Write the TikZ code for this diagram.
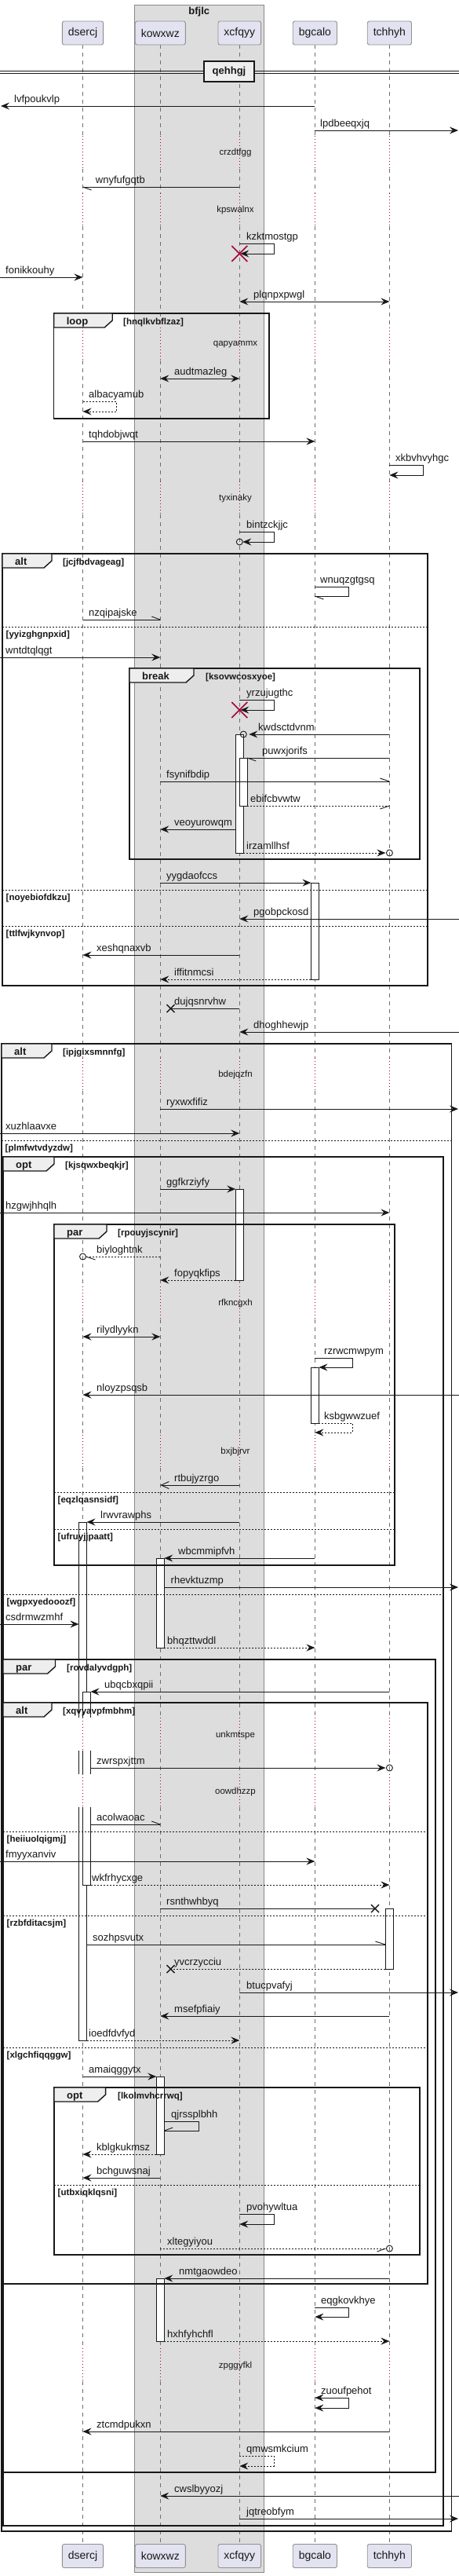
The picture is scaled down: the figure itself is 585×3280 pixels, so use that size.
\documentclass[tikz,border=0pt]{standalone}
\usepackage{fontspec}
\setmainfont{Liberation Sans}
\usetikzlibrary{arrows.meta}
\definecolor{ink}{HTML}{181818}
\definecolor{partfill}{HTML}{E2E2F0}
\definecolor{partdraw}{HTML}{909090}
\definecolor{grpfill}{HTML}{DDDDDD}
\definecolor{grpdraw}{HTML}{888888}
\definecolor{lifecol}{HTML}{6E6E6E}
\definecolor{delaycol}{HTML}{A80036}
\definecolor{tabfill}{HTML}{EEEEEE}
\tikzset{
  lbl/.style={font=\fontsize{13}{15}\selectfont, anchor=base west, inner sep=0pt, text=ink},
  dlbl/.style={font=\fontsize{11.5}{13}\selectfont, inner sep=0pt, text=ink},
  kw/.style={font=\bfseries\fontsize{13}{15}\selectfont, anchor=base west, inner sep=0pt, text=ink},
  cond/.style={font=\bfseries\fontsize{11.5}{13}\selectfont, anchor=base west, inner sep=0pt, text=ink},
  msgline/.style={draw=ink, line width=0.9pt},
  dsh/.style={dash pattern=on 2pt off 2pt},
  fa/.style={-{Stealth[length=11pt,width=9pt,inset=4pt]}},
  ba/.style={{Stealth[length=11pt,width=9pt,inset=4pt]}-{Stealth[length=11pt,width=9pt,inset=4pt]}},
  oa/.style={-{Straight Barb[length=10pt,width=9pt]}},
  frameline/.style={draw=ink, line width=1.4pt},
  sepline/.style={draw=ink, line width=0.8pt, dash pattern=on 2pt off 2pt},
  actbox/.style={draw=ink, fill=white, line width=0.9pt},
  partbox/.style={draw=partdraw, fill=partfill, rounded corners=2.5pt, line width=0.9pt, font=\fontsize{14}{16}\selectfont, inner xsep=7.5pt, inner ysep=0pt, minimum height=30pt, text=ink},
  lifeline/.style={draw=lifecol, line width=0.8pt, dash pattern=on 5pt off 5pt},
  delayline/.style={draw=delaycol, line width=0.9pt, dash pattern=on 1pt off 3pt},
  xred/.style={draw=delaycol, line width=1.6pt},
  xblk/.style={draw=ink, line width=1.4pt},
}
\def\xD{105.5}
\def\xK{204.3}
\def\xX{305.3}
\def\xB{401.4}
\def\xT{496.4}
\def\xL{1}
\def\xR{584}
% name, y, x1, x2, style, label, labelx
\newcommand\mymsg[7]{%
  \coordinate (#1s) at (#3,#2);
  \coordinate (#1e) at (#4,#2);
  \draw[msgline,#5] (#1s) -- (#1e);
  \node[lbl] (#1l) at (#7,#2-5) {#6};
}
% name, y1, y2, xstart, xend, xright, style, label, labelx
\newcommand\myself[9]{%
  \coordinate (#1s) at (#4,#2);
  \coordinate (#1a) at (#6,#2);
  \coordinate (#1b) at (#6,#3);
  \coordinate (#1e) at (#5,#3);
  \draw[msgline,#7] (#1s) -- (#1a) -- (#1b) -- (#1e);
  \node[lbl] (#1l) at (#9,#2-5) {#8};
}
\newcommand\mybarb[3]{\draw[msgline] (#1) -- ++(#2,#3);}
\newcommand\mylost[2]{\draw[xblk] (#1-5,#2-5) -- (#1+5,#2+5) (#1-5,#2+5) -- (#1+5,#2-5);}
\newcommand\mykill[2]{\draw[xred] (#1-10,#2-10) -- (#1+10,#2+10) (#1-10,#2+10) -- (#1+10,#2-10);}
\newcommand\myring[2]{\draw[msgline] (#1,#2) circle (4);}
% name, x1, y1, x2, y2, keyword, tabright, cond, condx
\newcommand\myframe[9]{%
  \draw[frameline] (#2,#3) rectangle (#4,#5);
  \filldraw[frameline, fill=tabfill] (#2,#3) -- (#7,#3) -- (#7,#3+9) -- (#7-10,#3+18) -- (#2,#3+18) -- cycle;
  \node[kw] (#1k) at (#2+16,#3+14) {#6};
  \node[cond] (#1c) at (#9,#3+14) {#8};
}
% name, x1, x2, y, label
\newcommand\mysep[5]{%
  \draw[sepline] (#2,#4) -- (#3,#4);
  \node[cond] (#1) at (#2+4.5,#4+13) {#5};
}
\newcommand\myact[4]{\filldraw[actbox] (#2,#3) rectangle (#2+10,#4);}
\begin{document}
\begin{tikzpicture}[x=1pt,y=-1pt]
\useasboundingbox (0,0) rectangle (585,3280);
\fill[white] (0,0) rectangle (585,3280);
% box group
\filldraw[fill=grpfill, draw=grpdraw, line width=0.8pt] (171,6) rectangle (336.6,3275);
\node[font=\bfseries\fontsize{13}{15}\selectfont, inner sep=0pt, text=ink] (grp) at (253.8,15) {bfjlc};
% lifelines
\foreach \lx in {\xD,\xK,\xX,\xB,\xT} {
  \foreach \a/\b in {57/173, 215/246, 288/417, 459/613, 655/1347, 1389/1638, 1680/1827, 1869/2187, 2229/2259, 2301/2990, 3032/3238}
    \draw[lifeline] (\lx,\a) -- (\lx,\b);
  \foreach \a/\b in {173/215, 246/288, 417/459, 613/655, 1347/1389, 1638/1680, 1827/1869, 2187/2229, 2259/2301, 2990/3032}
    \draw[delayline] (\lx,\a) -- (\lx,\b);
}
% participants
\node[partbox] (pD) at (\xD,42) {dsercj};
\node[partbox] (pK) at (\xK,42) {kowxwz};
\node[partbox] (pX) at (\xX,42) {xcfqyy};
\node[partbox] (pB) at (\xB,42) {bgcalo};
\node[partbox] (pT) at (\xT,42) {tchhyh};
\node[partbox] (qD) at (\xD,3254.5) {dsercj};
\node[partbox] (qK) at (\xK,3254.5) {kowxwz};
\node[partbox] (qX) at (\xX,3254.5) {xcfqyy};
\node[partbox] (qB) at (\xB,3254.5) {bgcalo};
\node[partbox] (qT) at (\xT,3254.5) {tchhyh};
% divider
\draw[ink, line width=0.9pt] (0,90) -- (585,90) (0,93) -- (585,93);
\node[draw=ink, line width=1.8pt, fill=tabfill, minimum width=64pt, minimum height=26pt, inner sep=0pt, font=\bfseries\fontsize{13}{15}\selectfont, text=ink] (div) at (292,91) {qehhgj};
% activations
\myact{aX1}{\xX-5}{935}{1086}
\myact{aX2}{\xX}{965}{1026}
\myact{aB1}{\xB-5}{1124}{1247}
\myact{aX3}{\xX-5}{1514}{1630}
\myact{aB2}{\xB-5}{1741}{1812}
\myact{aK1}{\xK-5}{1984}{2098}
\myact{aT1}{\xT-5}{2430}{2507}
\myact{aK2}{\xK-5}{2644}{2743}
\myact{aK3}{\xK-5}{2901}{2981}
% broken activations on dsercj
\fill[white] (\xD-5,1938) rectangle (\xD+5,2187);
\draw[ink, line width=0.9pt] (\xD-5,2187) -- (\xD-5,1938) -- (\xD+5,1938) -- (\xD+5,2187);
\fill[white] (\xD-5,2229) rectangle (\xD+5,2259);
\draw[ink, line width=0.9pt] (\xD-5,2229) -- (\xD-5,2259) (\xD+5,2229) -- (\xD+5,2259);
\fill[white] (\xD-5,2301) rectangle (\xD+5,2598);
\draw[ink, line width=0.9pt] (\xD-5,2301) -- (\xD-5,2598) -- (\xD+5,2598) -- (\xD+5,2301);
\fill[white] (\xD,2154) rectangle (\xD+10,2187);
\draw[ink, line width=0.9pt] (\xD,2187) -- (\xD,2154) -- (\xD+10,2154) -- (\xD+10,2187);
\fill[white] (\xD,2229) rectangle (\xD+10,2259);
\draw[ink, line width=0.9pt] (\xD,2229) -- (\xD,2259) (\xD+10,2229) -- (\xD+10,2259);
\fill[white] (\xD,2301) rectangle (\xD+10,2400);
\draw[ink, line width=0.9pt] (\xD,2301) -- (\xD,2400) -- (\xD+10,2400) -- (\xD+10,2301);
% frames
\myframe{fLoop}{68.6}{399}{343}{533}{loop}{143.2}{[hnqlkvbflzaz]}{157}
\myframe{fAltA}{3}{705}{545}{1255}{alt}{66}{[jcjfbdvageag]}{80}
\mysep{sA1}{3}{545}{798}{[yyizghgnpxid]}
\mysep{sA2}{3}{545}{1133}{[noyebiofdkzu]}
\mysep{sA3}{3}{545}{1179}{[ttlfwjkynvop]}
\myframe{fBrk}{165}{851}{535}{1094}{break}{247}{[ksovwcosxyoe]}{262}
\myframe{fAltB}{2}{1329}{575.5}{3223}{alt}{66}{[ipjgixsmnnfg]}{80}
\mysep{sB1}{2}{575.5}{1452}{[plmfwtvdyzdw]}
\myframe{fOptA}{4}{1473}{565}{3216}{opt}{69}{[kjsqwxbeqkjr]}{83}
\mysep{sO1}{4}{565}{2030}{[wgpxyedooozf]}
\myframe{fParA}{69}{1559}{503}{1993}{par}{136}{[rpouyjscynir]}{150}
\mysep{sP1}{69}{503}{1900}{[eqzlqasnsidf]}
\mysep{sP2}{69}{503}{1947}{[ufruyjjpaatt]}
\myframe{fParB}{4}{2113}{555}{3148}{par}{70.5}{[rovdalyvdgph]}{85}
\myframe{fAltC}{4}{2168}{545}{2908}{alt}{66}{[xqvyavpfmbhm]}{80}
\mysep{sC1}{4}{545}{2332}{[heiiuolqigmj]}
\mysep{sC2}{4}{545}{2439}{[rzbfditacsjm]}
\mysep{sC3}{4}{545}{2607}{[xlgchfiqqggw]}
\myframe{fOptB}{69}{2658}{535}{2871}{opt}{134.6}{[lkolmvhcrrwq]}{150}
\mysep{sOB}{69}{535}{2782}{[utbxiqklqsni]}
% delays
\node[dlbl] (d1) at (300,195) {crzdtfgg};
\node[dlbl] (d2) at (300,268) {kpswalnx};
\node[dlbl] (d3) at (300,439) {qapyammx};
\node[dlbl] (d4) at (300,635) {tyxinaky};
\node[dlbl] (d5) at (300,1369) {bdejqzfn};
\node[dlbl] (d6) at (300,1660) {rfkncgxh};
\node[dlbl] (d7) at (300,1849) {bxjbjrvr};
\node[dlbl] (d8) at (300,2209) {unkmtspe};
\node[dlbl] (d9) at (300,2281) {oowdhzzp};
\node[dlbl] (d10) at (300,3012) {zpggyfkl};
% messages
\mymsg{m1}{135}{\xB}{\xL}{fa}{lvfpoukvlp}{18}
\mymsg{m2}{166}{\xB}{\xR}{fa}{lpdbeeqxjq}{408}
\mymsg{m3}{238}{\xX}{\xD}{}{wnyfufgqtb}{121.7}
\mybarb{m3e}{11}{4}
\myself{m4}{310}{323}{\xX}{\xX+1}{349}{fa}{kzktmostgp}{314}
\mykill{\xX}{323}
\mymsg{m5}{353}{0}{\xD}{fa}{fonikkouhy}{7}
\mymsg{m6}{384}{\xX}{\xT}{ba}{plqnpxpwgl}{323}
\mymsg{m7}{482}{\xK}{\xX}{ba}{audtmazleg}{222}
\myself{m8}{511}{524}{\xD}{\xD}{148}{fa,dsh}{albacyamub}{113}
\mymsg{m9}{562}{\xD}{\xB}{fa}{tqhdobjwqt}{113}
\myself{m10}{592}{605}{\xT}{\xT}{539}{fa}{xkbvhvyhgc}{504}
\myself{m11}{677}{690}{\xX}{\xX+4}{349}{fa}{bintzckjjc}{314}
\myring{\xX}{690}
\myself{m12}{747}{759}{\xB}{\xB}{444}{}{wnuqzgtgsq}{408}
\mybarb{m12e}{11}{4}
\mymsg{m13}{789}{\xD}{\xK}{}{nzqipajske}{113}
\mybarb{m13e}{-11}{-4}
\mymsg{m14}{837}{0}{\xK}{fa}{wntdtqlqgt}{7}
\myself{m15}{891}{904}{\xX}{\xX+1}{349}{fa}{yrzujugthc}{314}
\mykill{\xX}{904}
\mymsg{m16}{935}{\xT}{\xX+12}{fa}{kwdsctdvnm}{329}
\myring{\xX+5}{935}
\mymsg{m17}{965}{\xT}{\xX+10}{}{puwxjorifs}{334}
\mybarb{m17e}{11}{4}
\mymsg{m18}{995}{\xK}{\xT}{}{fsynifbdip}{212}
\mybarb{m18e}{-12}{-4}
\mymsg{m19}{1026}{\xX+10}{\xT}{dsh}{ebifcbvwtw}{319}
\mybarb{m19e}{-12}{4}
\mymsg{m20}{1056}{\xX-5}{\xK}{fa}{veoyurowqm}{222}
\mymsg{m21}{1086}{\xX+5}{\xT-5}{fa,dsh}{irzamllhsf}{314}
\myring{\xT}{1086}
\mymsg{m22}{1124}{\xK}{\xB-5}{fa}{yygdaofccs}{212}
\mymsg{m23}{1170}{\xR+1}{\xX}{fa}{pgobpckosd}{323}
\mymsg{m24}{1216}{\xX}{\xD}{fa}{xeshqnaxvb}{123}
\mymsg{m25}{1247}{\xB-5}{\xK}{fa,dsh}{iffitnmcsi}{222}
\mymsg{m26}{1284}{\xX}{217.5}{}{dujqsnrvhw}{222}
\mylost{217.5}{1284}
\mymsg{m27}{1314}{\xR+1}{\xX}{fa}{dhoghhewjp}{323}
\mymsg{m28}{1412}{\xK}{\xR}{fa}{ryxwxfifiz}{212}
\mymsg{m29}{1443}{0}{\xX}{fa}{xuzhlaavxe}{7}
\mymsg{m30}{1514}{\xK}{\xX-5}{fa}{ggfkrziyfy}{212}
\mymsg{m31}{1544}{0}{\xT}{fa}{hzgwjhhqlh}{7}
\mymsg{m32}{1600}{\xK}{\xD+4}{dsh}{biyloghtnk}{123}
\mybarb{m32e}{12}{4}
\myring{\xD}{1600}
\mymsg{m33}{1630}{\xX-5}{\xK}{fa,dsh}{fopyqkfips}{222}
\mymsg{m34}{1702}{\xD}{\xK}{ba}{rilydlyykn}{123}
\myself{m35}{1729}{1741}{\xB}{\xB+5}{449}{fa}{rzrwcmwpym}{413}
\mymsg{m36}{1776}{\xR+1}{\xD}{fa}{nloyzpsqsb}{123}
\myself{m37}{1812}{1824}{\xB+5}{\xB}{449}{fa,dsh}{ksbgwwzuef}{413}
\mymsg{m38}{1891}{\xX}{\xK}{oa}{rtbujyzrgo}{222}
\mymsg{m39}{1938}{\xX}{\xD+5}{fa}{lrwvrawphs}{128}
\mymsg{m40}{1984}{\xB}{\xK+5}{fa}{wbcmmipfvh}{227}
\mymsg{m41}{2021}{\xK+5}{\xR}{fa}{rhevktuzmp}{217.5}
\mymsg{m42}{2068}{0}{\xD-5}{fa}{csdrmwzmhf}{7}
\mymsg{m43}{2098}{\xK+5}{\xB}{fa,dsh}{bhqzttwddl}{213}
\mymsg{m44}{2154}{\xT}{\xD+10}{fa}{ubqcbxqpii}{133}
\mymsg{m45}{2251}{\xD+10}{\xT-5}{fa}{zwrspxjttm}{123}
\myring{\xT}{2251}
\mymsg{m46}{2323}{\xD+10}{\xK}{}{acolwaoac}{123}
\mybarb{m46e}{-11}{-4}
\mymsg{m47}{2370}{0}{\xB}{fa}{fmyyxanviv}{7}
\mymsg{m48}{2400}{\xD+10}{\xT}{fa,dsh}{wkfrhycxge}{117}
\mymsg{m49}{2430}{\xK}{478}{}{rsnthwhbyq}{212}
\mylost{478}{2430}
\mymsg{m50}{2476}{\xD+5}{\xT-5}{}{sozhpsvutx}{118}
\mybarb{m50e}{-13}{-4}
\mymsg{m51}{2507}{\xT-5}{217.5}{dsh}{yvcrzycciu}{222}
\mylost{217.5}{2507}
\mymsg{m52}{2537}{\xX}{\xR}{fa}{btucpvafyj}{314}
\mymsg{m53}{2567}{\xT}{\xK}{fa}{msefpfiaiy}{222}
\mymsg{m54}{2598}{\xD+5}{\xX}{fa,dsh}{ioedfdvfyd}{113}
\mymsg{m55}{2644}{\xD}{\xK-5}{fa}{amaiqggytx}{113}
\myself{m56}{2701}{2713}{\xK+5}{\xK+5}{253}{}{qjrssplbhh}{218}
\mybarb{m56e}{11}{-4}
\mymsg{m57}{2743}{\xK-5}{\xD}{fa,dsh}{kblgkukmsz}{123}
\mymsg{m58}{2773}{\xK}{\xD}{fa}{bchguwsnaj}{123}
\myself{m59}{2819}{2832}{\xX}{\xX}{349}{fa}{pvohywltua}{314}
\mymsg{m60}{2863}{\xK}{\xT-5}{dsh}{xltegyiyou}{213}
\mybarb{m60e}{-11}{4}
\myring{\xT}{2863}
\mymsg{m61}{2901}{\xT}{\xK+5}{fa}{nmtgaowdeo}{228}
\myself{m62}{2938}{2950}{\xB}{\xB}{444}{fa}{eqgkovkhye}{409}
\mymsg{m63}{2981}{\xK+5}{\xT}{fa,dsh}{hxhfyhchfl}{213}
\myself{m64}{3053}{3066}{\xB}{\xB}{444}{ba}{zuoufpehot}{409}
\mymsg{m65}{3096}{\xT}{\xD}{fa}{ztcmdpukxn}{123}
\myself{m66}{3127}{3140}{\xX}{\xX}{349}{fa,dsh}{qmwsmkcium}{314}
\mymsg{m67}{3178}{\xR+1}{\xK}{fa}{cwslbyyozj}{222}
\mymsg{m68}{3207}{\xX}{\xR}{fa}{jqtreobfym}{314}
\end{tikzpicture}
\end{document}
